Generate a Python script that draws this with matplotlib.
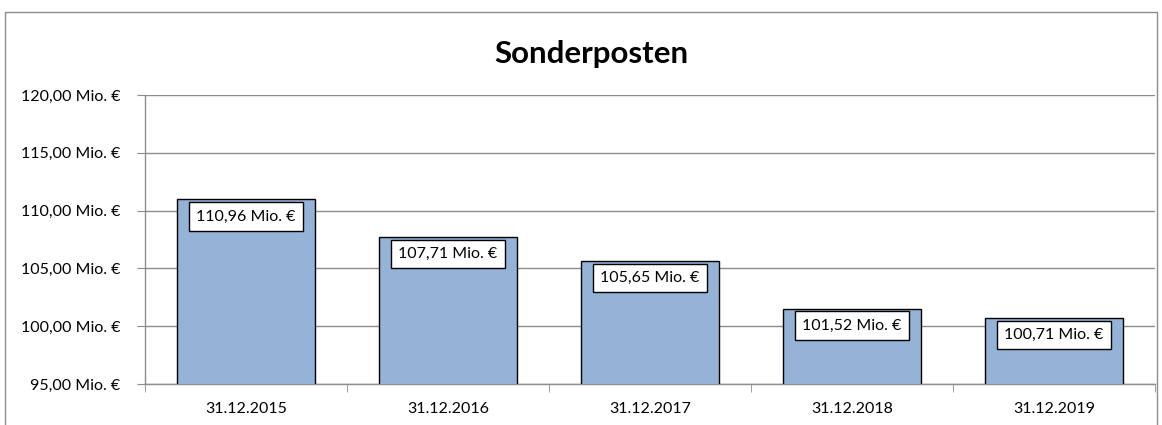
import matplotlib.pyplot as plt
from matplotlib.patches import Rectangle

dates = ['31.12.2015', '31.12.2016', '31.12.2017', '31.12.2018', '31.12.2019']
values = [110.96, 107.71, 105.65, 101.52, 100.71]
y_ticks = [95, 100, 105, 110, 115, 120]


def euro(v):
    return f"{v:.2f}".replace('.', ',') + " Mio. €"


plt.rcParams['font.family'] = ['Lato', 'DejaVu Sans']

fig = plt.figure(figsize=(11.62, 4.25), dpi=100)
ax = fig.add_axes([0.1248, 0.0965, 0.8692, 0.68])

x = list(range(len(dates)))
bars = ax.bar(x, values, width=0.68, color='#95b3d7', edgecolor='black',
              linewidth=1.0, zorder=3, bottom=0)

# value labels in white boxes just below the top of each bar
for xi, v in zip(x, values):
    ax.annotate(euro(v), (xi, v), xytext=(0, -17), textcoords='offset pixels',
                ha='center', va='center', fontsize=11.5, zorder=4,
                bbox=dict(boxstyle='square,pad=0.45', fc='white', ec='black', lw=1))

ax.set_ylim(95, 120)
ax.set_xlim(-0.5, len(dates) - 0.5)
ax.set_yticks(y_ticks)
ax.set_yticklabels([euro(t) for t in y_ticks], fontsize=11.5)
ax.yaxis.grid(True, color='#8c8c8c', linewidth=1, zorder=0)

# category labels centered, tick marks at category boundaries
ax.set_xticks(x)
ax.set_xticklabels(dates, fontsize=11.5)
ax.tick_params(axis='x', length=0, pad=13)
ax.set_xticks([i - 0.5 for i in range(len(dates) + 1)], minor=True)
ax.tick_params(axis='x', which='minor', length=6, color='#8c8c8c', direction='out')
ax.tick_params(axis='y', length=6, color='#8c8c8c', direction='out', pad=12)

for side in ['top', 'right']:
    ax.spines[side].set_visible(False)
for side in ['left', 'bottom']:
    ax.spines[side].set_color('#8c8c8c')
    ax.spines[side].set_linewidth(1)

fig.text(0.509, 0.873, 'Sonderposten', ha='center', va='center',
         fontsize=22.5, fontweight='bold')

# outer chart border
fig.patches.append(Rectangle((5 / 1162, -0.1), 1152 / 1162, 1.1 - 12 / 425,
                             transform=fig.transFigure, fill=False,
                             ec='#8c8c8c', lw=1))

fig.savefig('out.png', dpi=100)
